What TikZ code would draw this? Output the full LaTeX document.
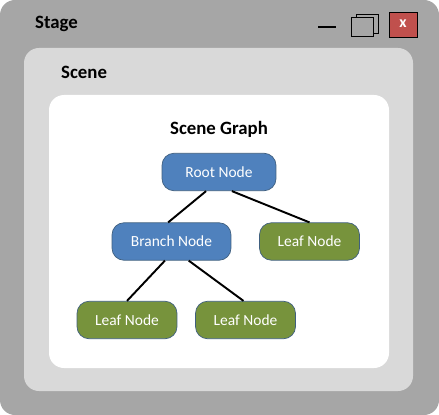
\documentclass[tikz,border=0pt]{standalone}
\usepackage{fontspec}
\setmainfont{Carlito}
\usepackage{tikz}
\definecolor{stagegray}{HTML}{A6A6A6}
\definecolor{scenegray}{HTML}{D9D9D9}
\definecolor{nodeblue}{HTML}{4F81BD}
\definecolor{nodegreen}{HTML}{77933C}
\definecolor{nodeborder}{HTML}{3F5F7F}
\definecolor{closered}{HTML}{C0504D}
\tikzset{
	title/.style={font=\fontsize{10.7}{12}\selectfont\bfseries, anchor=west},
	tnode/.style={rounded corners=0.24cm, draw=nodeborder, thin, text=white, minimum height=0.75cm, font=\fontsize{8.8}{10}\selectfont},
	branchnode/.style={tnode, fill=nodeblue},
	leafnode/.style={tnode, fill=nodegreen, minimum width=2cm},
	edge/.style={draw=black, line width=1.1pt}
}

\begin{document}
\begin{tikzpicture}[x=0.02cm, y=-0.02cm]
		\useasboundingbox (0,0) rectangle (439,415);
		% stage window
		\fill[stagegray, rounded corners=0.3cm] (0,0) rectangle (439,415);
		\node[title] (stage) at (29,24) {Stage};
		% window buttons
		\draw[line width=1.6pt] (318,27) -- (336,27);
		\draw[thin] (356,14) rectangle (378,33);
		\draw[thin, fill=stagegray] (351,17) rectangle (373,36);
		\draw[thin, fill=closered] (389,12) rectangle (417,37);
		\node[text=white, font=\fontsize{9}{10}\selectfont\bfseries] (close) at (403,24) {x};
		% scene
		\fill[scenegray, rounded corners=0.3cm] (24,48) rectangle (413,391);
		\node[title] (scene) at (55,72) {Scene};
		% scene graph
		\fill[white, rounded corners=0.3cm] (49,95) rectangle (389,368);
		\node[title, anchor=center] (graph) at (219,129) {Scene Graph};
		% nodes
		\node[branchnode, minimum width=2.28cm] (root) at (219,172) {Root Node};
		\node[branchnode, minimum width=2.38cm] (branch) at (171.5,241.5) {Branch Node};
		\node[leafnode] (leafa) at (309.5,241.5) {Leaf Node};
		\node[leafnode] (leafb) at (127,320) {Leaf Node};
		\node[leafnode] (leafc) at (245.5,320) {Leaf Node};
		% edges
		\draw[edge] (root.-124) -- (branch.100);
		\draw[edge] (root.-56) -- (leafa.north);
		\draw[edge] (branch.-109) -- (leafb.north);
		\draw[edge] (branch.-48) -- (leafc.96);
	\end{tikzpicture}
\end{document}
